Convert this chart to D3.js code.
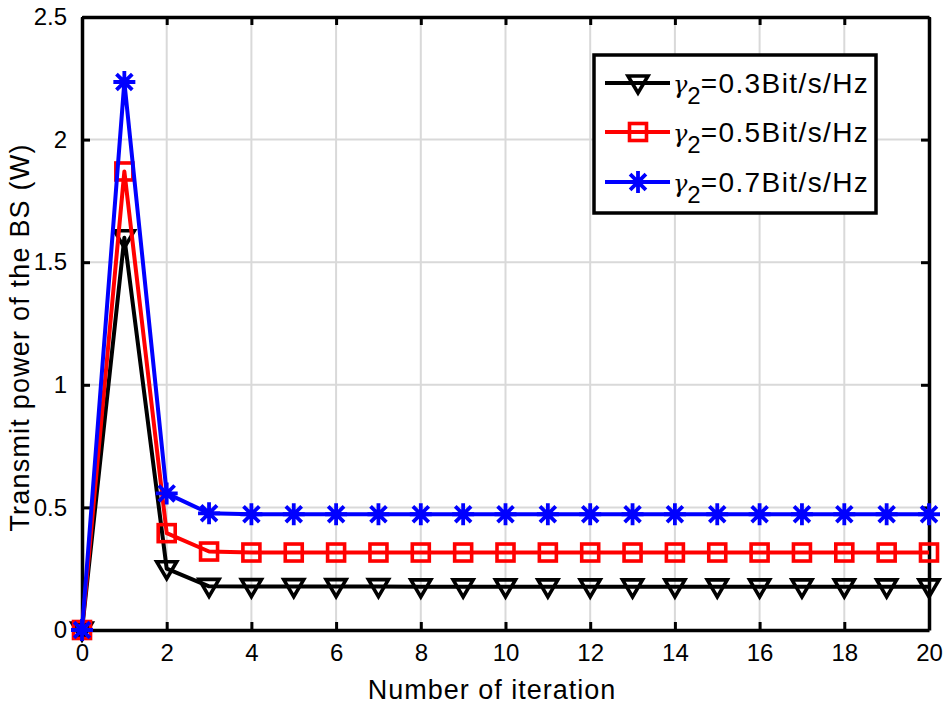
<!DOCTYPE html>
<html><head><meta charset="utf-8">
<script src="https://cdn.jsdelivr.net/npm/d3@7"></script>
<style>body{margin:0;background:#fff}svg{display:block}text{font-family:"Liberation Sans",Arial,sans-serif}</style>
</head><body>
<script>
const iterations = d3.range(0, 21);
const seriesNames = ["0.3Bit/s/Hz", "0.5Bit/s/Hz", "0.7Bit/s/Hz"];
const black03 = [0, 1.60, 0.25, 0.178, 0.177, 0.177, 0.177, 0.177, 0.176, 0.176, 0.176, 0.176, 0.176, 0.176, 0.176, 0.176, 0.176, 0.176, 0.176, 0.176, 0.176];
const red05 = [0, 1.87, 0.395, 0.32, 0.316, 0.316, 0.316, 0.316, 0.316, 0.316, 0.316, 0.316, 0.316, 0.316, 0.316, 0.316, 0.316, 0.316, 0.316, 0.316, 0.316];
const blue07 = [0, 2.235, 0.557, 0.476, 0.472, 0.472, 0.472, 0.472, 0.472, 0.472, 0.472, 0.472, 0.472, 0.472, 0.472, 0.472, 0.472, 0.472, 0.472, 0.472, 0.472];
const xTicks = [0, 2, 4, 6, 8, 10, 12, 14, 16, 18, 20];
const yTicks = [0, 0.5, 1, 1.5, 2, 2.5];
const colors = ["#000000", "#ff0000", "#0000ff"];
const markers = ["tri", "square", "star"];
const allSeries = [black03, red05, blue07];

const W = 945, H = 704;
const L = 82, R = 929, T = 17, B = 630;
const svg = d3.select("body").append("svg").attr("width", W).attr("height", H);
const x = d3.scaleLinear().domain([0, 20]).range([L, R]);
const y = d3.scaleLinear().domain([0, 2.5]).range([B, T]);

// grid
const g = svg.append("g");
g.selectAll(".gx").data(xTicks.slice(1, -1)).enter().append("line")
  .attr("x1", d => x(d)).attr("x2", d => x(d)).attr("y1", T).attr("y2", B)
  .attr("stroke", "#d9d9d9").attr("stroke-width", 2);
g.selectAll(".gy").data(yTicks.slice(1, -1)).enter().append("line")
  .attr("y1", d => y(d)).attr("y2", d => y(d)).attr("x1", L).attr("x2", R)
  .attr("stroke", "#d9d9d9").attr("stroke-width", 2);

// axes
const tl = 8;
const xa = svg.append("g").attr("transform", `translate(0,${B})`)
  .call(d3.axisBottom(x).tickValues(xTicks).tickSizeInner(-tl).tickSizeOuter(0).tickPadding(14).tickFormat(d3.format("d")));
const xt = svg.append("g").attr("transform", `translate(0,${T})`)
  .call(d3.axisTop(x).tickValues(xTicks).tickSizeInner(-tl).tickSizeOuter(0).tickFormat(""));
const ya = svg.append("g").attr("transform", `translate(${L},0)`)
  .call(d3.axisLeft(y).tickValues(yTicks).tickSizeInner(-tl).tickSizeOuter(0).tickPadding(15).tickFormat(d => String(d)));
const yr = svg.append("g").attr("transform", `translate(${R},0)`)
  .call(d3.axisRight(y).tickValues(yTicks).tickSizeInner(-tl).tickSizeOuter(0).tickFormat(""));
[xa, xt, ya, yr].forEach(a => {
  a.selectAll("path").attr("stroke", "#000").attr("stroke-width", 3.5);
  a.selectAll("line").attr("stroke", "#000").attr("stroke-width", 3);
  a.selectAll("text").attr("font-size", 24).attr("fill", "#000");
});

// series
function drawMarker(sel, type, color) {
  if (type === "tri") {
    sel.append("path").attr("d", "M-10,-7 L10,-7 L0,10 Z").attr("fill", "none").attr("stroke", color).attr("stroke-width", 3.6).attr("stroke-linejoin", "miter");
  } else if (type === "square") {
    sel.append("rect").attr("x", -8.5).attr("y", -8.5).attr("width", 17).attr("height", 17)
      .attr("fill", "none").attr("stroke", color).attr("stroke-width", 3.6);
  } else {
    const r = 11, d = r * 0.72;
    sel.append("path").attr("d", `M0,${-r}L0,${r}M${-r},0L${r},0M${-d},${-d}L${d},${d}M${-d},${d}L${d},${-d}`)
      .attr("stroke", color).attr("stroke-width", 3.8).attr("fill", "none");
  }
}
const line = d3.line().x((d, i) => x(iterations[i])).y(d => y(d));
allSeries.forEach((s, k) => {
  const sg = svg.append("g");
  sg.append("path").datum(s).attr("d", line).attr("fill", "none")
    .attr("stroke", colors[k]).attr("stroke-width", 4).attr("stroke-linejoin", "round");
  sg.selectAll(".m").data(s).enter().append("g")
    .attr("transform", (d, i) => `translate(${x(iterations[i])},${y(d)})`)
    .each(function() { drawMarker(d3.select(this), markers[k], colors[k]); });
});

// legend
const lg = svg.append("g");
lg.append("rect").attr("x", 594).attr("y", 55).attr("width", 282).attr("height", 158)
  .attr("fill", "#fff").attr("stroke", "#000").attr("stroke-width", 3.5);
const rowsY = [83, 132, 182];
seriesNames.forEach((n, k) => {
  const yy = rowsY[k];
  lg.append("line").attr("x1", 605).attr("x2", 670).attr("y1", yy).attr("y2", yy)
    .attr("stroke", colors[k]).attr("stroke-width", 4);
  const mg = lg.append("g").attr("transform", `translate(638,${yy})`);
  drawMarker(mg, markers[k], colors[k]);
  const t = lg.append("text").attr("x", 673).attr("y", yy + 10).attr("font-size", 28).attr("fill", "#000");
  t.append("tspan").text("γ").style("font-family", "DejaVu Serif, serif").attr("font-style", "italic").attr("font-size", 24);
  t.append("tspan").text("2").attr("font-size", 24).attr("dy", 11);
  t.append("tspan").text("=" + n).attr("dy", -11).attr("letter-spacing", 1.4);
});

// titles
svg.append("text").attr("x", 492).attr("y", 699).attr("text-anchor", "middle")
  .attr("font-size", 27).attr("letter-spacing", 1).attr("fill", "#000").text("Number of iteration");
svg.append("text").attr("transform", `translate(29,${(T + B) / 2 + 14}) rotate(-90)`).attr("text-anchor", "middle")
  .attr("font-size", 27).attr("letter-spacing", 1.2).attr("fill", "#000").text("Transmit power of the BS (W)");
</script>
</body></html>
